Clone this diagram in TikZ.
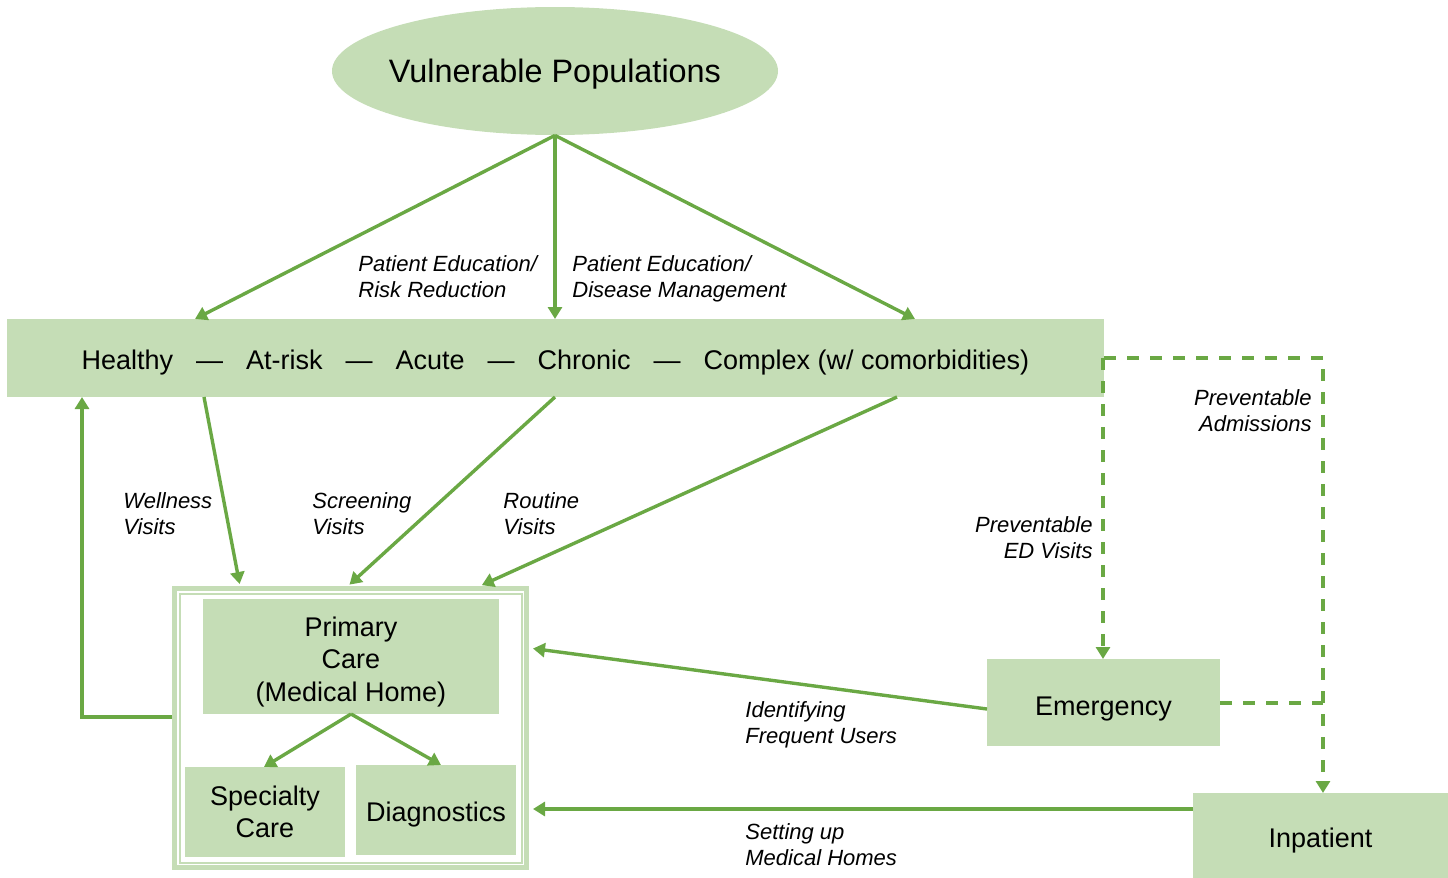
\documentclass[tikz,border=0pt]{standalone}
\usepackage{fontspec}
\setmainfont{Liberation Sans}
\usetikzlibrary{arrows.meta,shapes.geometric}
\definecolor{lg}{HTML}{C5DDB6}
\definecolor{dg}{HTML}{6AA844}
\begin{document}
\begin{tikzpicture}[x=0.5pt,y=-0.5pt,
  box/.style={fill=lg, draw=none, inner sep=0pt, outer sep=0pt, text=black, align=center, font=\fontsize{13.5}{16.25}\selectfont},
  arr/.style={draw=dg, line width=1.7pt, -{Triangle[length=6pt,width=7pt]}},
  dsh/.style={arr, dash pattern=on 6pt off 5.5pt},
  plain/.style={draw=dg, line width=1.7pt},
  lab/.style={font=\fontsize{11}{13}\selectfont\itshape, inner sep=0pt, text=black}]
\useasboundingbox (0,0) rectangle (1448,878);

% nodes
\node[ellipse, fill=lg, inner sep=0pt, minimum width=223pt, minimum height=64pt,
      font=\fontsize{16.2}{19}\selectfont] (ell) at (555,71) {\makebox[0pt][c]{\rule{0pt}{14.8pt}Vulnerable Populations}};
\node[box, minimum width=548.5pt, minimum height=39pt] (band) at (555.5,358)
  {\rule{0pt}{13.8pt}Healthy\hspace{11.5pt}—\hspace{11.5pt}At-risk\hspace{11.5pt}—\hspace{11.5pt}Acute\hspace{11.5pt}—\hspace{11.5pt}Chronic\hspace{11.5pt}—\hspace{11.5pt}Complex (w/ comorbidities)};

\node[draw=lg, line width=2.5pt, fill=white, minimum width=176pt, minimum height=139.5pt, inner sep=0pt] (cont) at (350.5,728) {};
\draw[draw=lg, line width=1pt] (179.5,593.5) rectangle (521.5,862.5);

\node[box, minimum width=148pt, minimum height=57.5pt] (pc) at (351,656.5) {\rule{0pt}{15pt}Primary\\Care\\(Medical Home)};
\node[box, minimum width=80pt, minimum height=45pt] (sc) at (265,812) {Specialty\\Care};
\node[box, minimum width=80pt, minimum height=45pt] (dx) at (436,810) {\rule{0pt}{14pt}Diagnostics};
\node[box, minimum width=116.5pt, minimum height=43.5pt] (em) at (1103.5,702.5) {\rule{0pt}{15.8pt}Emergency};
\node[box, minimum width=127.5pt, minimum height=42.5pt] (inp) at (1320.5,835.5) {\rule{0pt}{15pt}Inpatient};

% labels
\node[lab, anchor=west, align=left] (l1) at (358,277) {Patient Education/\\Risk Reduction};
\node[lab, anchor=west, align=left] (l2) at (572,279) {Patient Education/\\Disease Management};
\node[lab, anchor=west, align=left] (l3) at (123,514) {Wellness\\Visits};
\node[lab, anchor=west, align=left] (l4) at (312,514) {Screening\\Visits};
\node[lab, anchor=west, align=left] (l5) at (503,514) {Routine\\Visits};
\node[lab, anchor=east, align=right] (l6) at (1312,411) {Preventable\\Admissions};
\node[lab, anchor=east, align=right] (l7) at (1093,538) {Preventable\\ED Visits};
\node[lab, anchor=west, align=left] (l8) at (745,725) {Identifying\\Frequent Users};
\node[lab, anchor=west, align=left] (l9) at (745,845) {Setting up\\Medical Homes};

% connectors
\draw[arr] (ell.south) -- (195,0 |- band.north);
\draw[arr] (ell.south) -- (555,0 |- band.north);
\draw[arr] (ell.south) -- (915,0 |- band.north);

\draw[arr, shorten >=1pt] (204,0 |- band.south) -- (240,0 |- cont.north);
\draw[arr, shorten >=1pt] (555,0 |- band.south) -- (348,0 |- cont.north);
\draw[arr, shorten >=1pt] (897,0 |- band.south) -- (480,0 |- cont.north);
\draw[arr] (cont.west |- 0,717) -| (82,0 |- band.south);

\draw[arr] (pc.south) -- (264,0 |- sc.north);
\draw[arr] (pc.south) -- (441,0 |- dx.north);

\draw[arr, shorten >=2pt] (em.west |- 0,709) -- (cont.east |- 0,648);
\draw[arr, shorten >=2pt] (inp.west |- 0,809) -- (cont.east |- 0,809);

\draw[dsh] (band.east) -- (1323,0 |- band.east) -- (1323,0 |- inp.north);
\draw[dsh] (1103,0 |- band.east) -- (1103,0 |- em.north);
\draw[plain, dash pattern=on 6pt off 5.5pt] (em.east |- 0,703) -- (1323,703);
\end{tikzpicture}
\end{document}
